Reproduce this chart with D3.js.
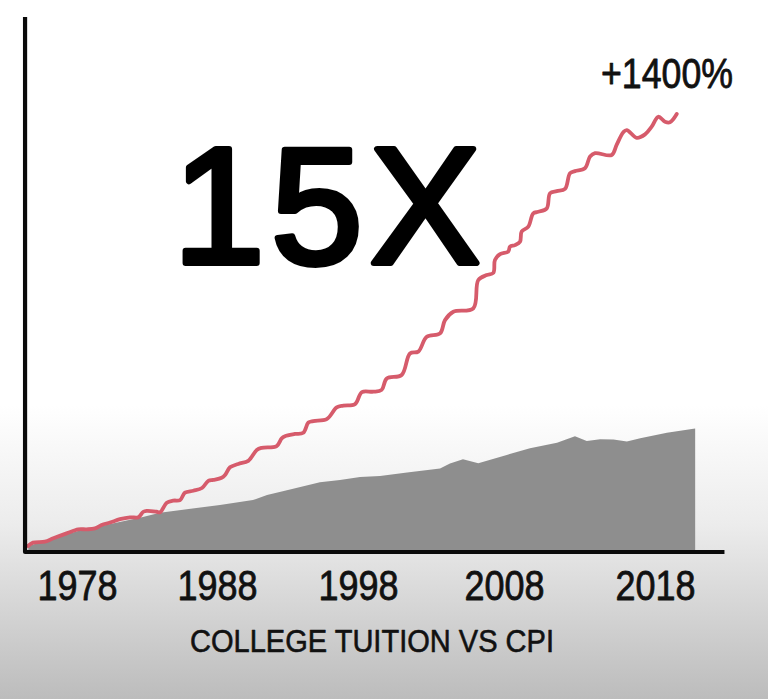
<!DOCTYPE html>
<html><head><meta charset="utf-8">
<script src="https://cdn.jsdelivr.net/npm/d3@7"></script>
<style>html,body{margin:0;padding:0;background:#fff;overflow:hidden}</style>
</head><body><svg id="chart" width="768" height="699"></svg>
<script>
// ---- data ----
const tickYears = [1978, 1988, 1998, 2008, 2018];
const tuitionYears = [1974.5,1974.86,1975.71,1976.31,1977.26,1978.09,1978.69,1979.29,1979.76,1980.36,
  1981.07,1981.79,1982.38,1982.74,1982.98,1983.69,1983.93,1984.41,1984.88,1985.36,
  1985.71,1986.31,1986.93,1987.38,1987.74,1988.33,1988.57,1988.92,1989.51,1990.22,
  1990.82,1991.17,1992.23,1992.59,1992.82,1993.53,1994.12,1994.48,1994.83,1995.78,
  1996.49,1996.96,1997.79,1998.27,1999.05,1999.62,1999.97,2000.99,2001.56,2002.13,
  2002.71,2003.62,2003.96,2004.53,2005.90,2006.24,2006.82,2007.27,2007.38,2007.73,
  2008.28,2008.40,2008.73,2009.06,2009.17,2009.61,2009.94,2010.27,2010.83,2011.05,
  2011.49,2012.04,2012.37,2012.70,2013.36,2013.70,2014.03,2015.13,2015.46,2015.90,
  2016.13,2016.79,2017.34,2017.78,2018.22,2018.66,2018.99,2019.44];
const tuitionPct = [0,11,14,25,41,54,54,57,68,76,
  87,93,93,111,114,111,109,140,147,149,
  173,179,188,211,214,221,230,255,266,276,
  311,318,324,349,356,363,367,400,405,411,
  449,455,460,499,500,506,543,554,624,630,
  678,689,732,759,770,862,878,885,927,946,
  954,970,975,986,1019,1035,1078,1083,1094,1143,
  1150,1157,1208,1215,1224,1262,1273,1267,1300,1341,
  1348,1323,1334,1359,1391,1375,1373,1400];
const cpiYears = [1974.52,1978.07,1982.71,1983.93,1988.21,1990.55,1991.55,1992.96,1995.30,1996.72,
  1998.14,1999.51,2001.36,2003.62,2004.30,2005.19,2006.24,2008.18,2009.72,2011.51,
  2012.70,2013.48,2014.37,2015.25,2016.14,2017.02,2018.79,2020.66];
const cpiPct = [0,49,94,108,133,149,165,181,207,214,
  224,227,238,251,267,281,268,295,317,335,
  356,340,346,345,339,349,367,381];
const axisYears = [1974.29, 2022.6];
const axisPct = [-19.4, 1714];
const headline = "15X";
const endLabel = "+1400%";
const xTitle = "COLLEGE TUITION VS CPI";

// ---- chart ----
const W = 768, H = 699;
const svg = d3.select("#chart");
const x = d3.scaleLinear().domain(tickYears).range([77, 217, 358, 504, 655]);
const y = d3.scaleLinear().domain([0, 1400]).range([546, 114]);

const defs = svg.append("defs");
const grad = defs.append("linearGradient").attr("id", "bg").attr("x1", 0).attr("y1", 0).attr("x2", 0).attr("y2", 1);
grad.append("stop").attr("offset", "0%").attr("stop-color", "#ffffff");
grad.append("stop").attr("offset", "58%").attr("stop-color", "#ffffff");
grad.append("stop").attr("offset", "75%").attr("stop-color", "#ececec");
grad.append("stop").attr("offset", "100%").attr("stop-color", "#bcbcbc");
svg.append("rect").attr("width", W).attr("height", H).attr("fill", "url(#bg)");

const tuition = tuitionYears.map((yr, i) => ({yr, v: tuitionPct[i]}));
const cpi = cpiYears.map((yr, i) => ({yr, v: cpiPct[i]}));

svg.append("path").datum(cpi)
  .attr("fill", "#8e8e8e")
  .attr("d", d3.area().x(d => x(d.yr)).y0(y(axisPct[0])).y1(d => y(d.v)).curve(d3.curveLinear));

svg.append("path").datum(tuition)
  .attr("fill", "none").attr("stroke", "#d65b6b").attr("stroke-width", 3.8)
  .attr("stroke-linejoin", "round").attr("stroke-linecap", "round")
  .attr("d", d3.line().x(d => x(d.yr)).y(d => y(d.v)).curve(d3.curveCatmullRom.alpha(0.5)));

// axes lines
svg.append("path")
  .attr("d", `M${x(axisYears[0])},${y(axisPct[1])}V${y(axisPct[0])}H${x(axisYears[1])}`)
  .attr("fill", "none").attr("stroke", "#0a0a0a").attr("stroke-width", 4.2).attr("stroke-linejoin", "round");

// tick labels via d3 axis
const gx = svg.append("g").attr("transform", `translate(0,${y(axisPct[0])})`)
  .call(d3.axisBottom(x).tickValues(tickYears).tickFormat(d3.format("d")).tickSize(0));
gx.select(".domain").remove();
gx.selectAll("text")
  .attr("y", 48).attr("dy", 0)
  .attr("font-family", "'Liberation Sans', Arial, sans-serif")
  .attr("font-size", 42).attr("fill", "#111").attr("stroke", "#111").attr("stroke-width", 0.8)
  .attr("stroke-linejoin", "round")
  .attr("textLength", 80).attr("lengthAdjust", "spacingAndGlyphs");

// headline: one text, each glyph placed as its own chunk
const headX = [219, 317, 425];
const ht = svg.append("text")
  .attr("y", 263).attr("text-anchor", "middle")
  .attr("font-family", "'Liberation Sans', Arial, sans-serif")
  .attr("font-size", 165).attr("fill", "#000").attr("stroke", "#000").attr("stroke-width", 6)
  .attr("stroke-linejoin", "round").attr("stroke-linecap", "round");
ht.selectAll("tspan").data(headline.split("")).join("tspan")
  .attr("x", (d, i) => headX[i]).text(d => d);

// end label
svg.append("text").text(endLabel)
  .attr("x", 667).attr("y", 88).attr("text-anchor", "middle")
  .attr("font-family", "'Liberation Sans', Arial, sans-serif")
  .attr("font-size", 42).attr("fill", "#111").attr("stroke", "#111").attr("stroke-width", 0.8)
  .attr("stroke-linejoin", "round")
  .attr("textLength", 132).attr("lengthAdjust", "spacingAndGlyphs");

// x title
svg.append("text").text(xTitle)
  .attr("x", 372).attr("y", 652).attr("text-anchor", "middle")
  .attr("font-family", "'Liberation Sans', Arial, sans-serif")
  .attr("font-size", 32).attr("fill", "#111").attr("stroke", "#111").attr("stroke-width", 0.6)
  .attr("stroke-linejoin", "round")
  .attr("textLength", 364).attr("lengthAdjust", "spacingAndGlyphs");
</script>
</body></html>
